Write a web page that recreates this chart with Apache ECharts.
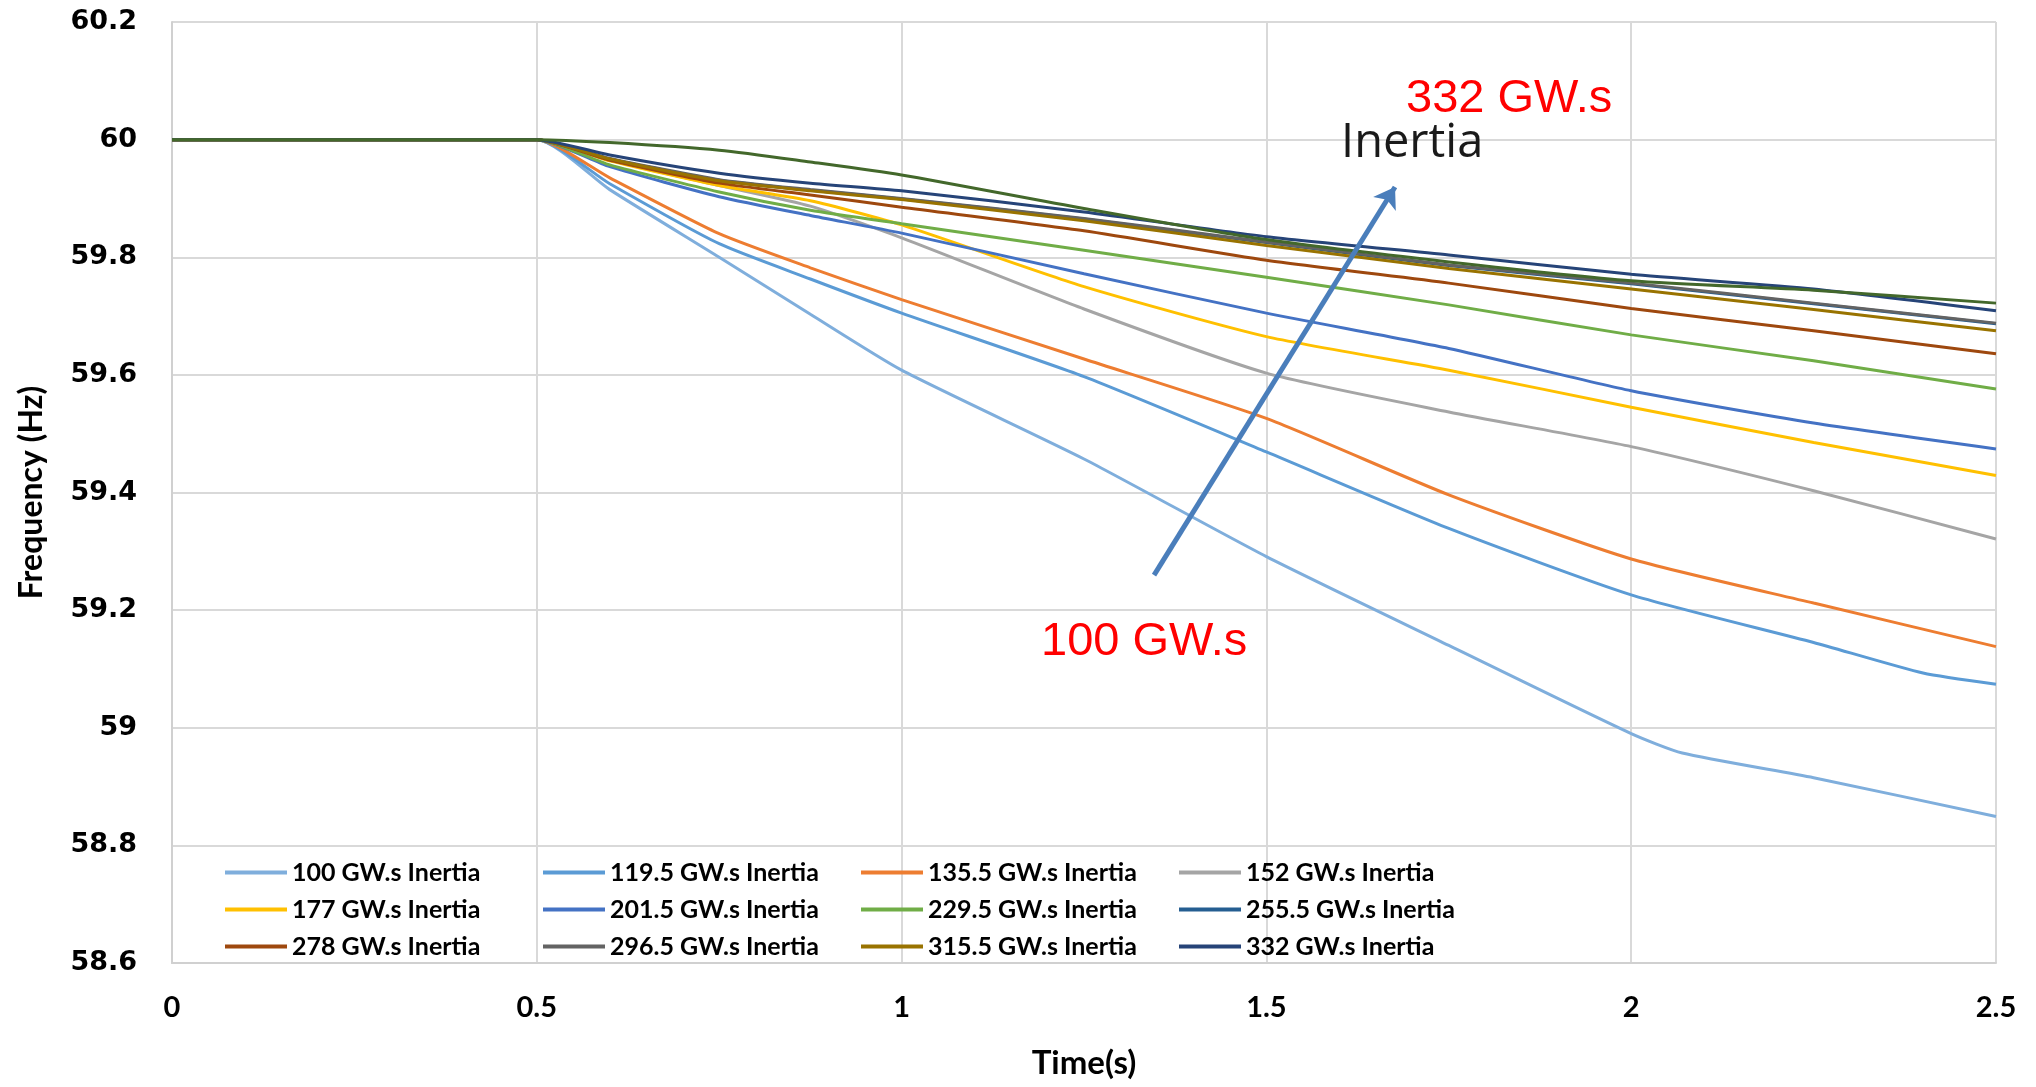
<!DOCTYPE html>
<html>
<head>
<meta charset="utf-8">
<script src="https://cdn.jsdelivr.net/npm/echarts@6/dist/echarts.min.js"></script>
<style>
html,body{margin:0;padding:0;background:#fff;}
#chart{width:2036px;height:1087px;}
</style>
</head>
<body>
<div id="chart"></div>
<script>
// ---- data ----
const times = [0, 0.5, 0.6, 0.75, 0.875, 1.0, 1.25, 1.5, 1.75, 2.0, 2.07, 2.25, 2.4, 2.5];
const yTickLabels = ['58.6','58.8','59','59.2','59.4','59.6','59.8','60','60.2'];
const xTickLabels = ['0','0.5','1','1.5','2','2.5'];

const names = ['100 GW.s Inertia','119.5 GW.s Inertia','135.5 GW.s Inertia','152 GW.s Inertia',
  '177 GW.s Inertia','201.5 GW.s Inertia','229.5 GW.s Inertia','255.5 GW.s Inertia',
  '278 GW.s Inertia','296.5 GW.s Inertia','315.5 GW.s Inertia','332 GW.s Inertia'];
const extraName = 'extra';

const f100   = [60,60,59.915,59.800,59.703,59.608,59.457,59.291,59.140,58.990,58.957,58.915,null,58.849];
const f119_5 = [60,60,59.925,59.823,59.763,59.705,59.597,59.469,59.339,59.226,null,59.145,59.093,59.074];
const f135_5 = [60,60,59.935,59.840,59.782,59.728,59.627,59.526,59.396,59.287,null,59.212,null,59.138];
const f152   = [60,60,59.965,59.922,59.887,59.833,59.712,59.603,59.537,59.478,null,59.403,null,59.321];
const f177   = [60,60,59.964,59.922,59.896,59.855,59.750,59.665,59.608,59.545,null,59.485,null,59.429];
const f201_5 = [60,60,59.954,59.903,59.871,59.841,59.772,59.705,59.645,59.573,null,59.518,null,59.474];
const f229_5 = [60,60,59.957,59.911,59.880,59.857,59.812,59.766,59.719,59.668,null,59.624,null,59.576];
const f255_5 = [60,60,59.967,59.931,59.914,59.899,59.865,59.825,59.786,59.755,null,59.721,null,59.687];
const f278   = [60,60,59.965,59.926,59.906,59.885,59.845,59.795,59.756,59.713,null,59.675,null,59.636];
const f296_5 = [60,60,59.968,59.932,59.915,59.900,59.866,59.826,59.787,59.756,null,59.722,null,59.688];
const f315_5 = [60,60,59.967,59.930,59.913,59.898,59.862,59.820,59.781,59.746,null,59.711,null,59.675];
const f332   = [60,60,59.974,59.943,59.926,59.913,59.877,59.835,59.804,59.771,null,59.746,null,59.709];
const fExtra = [60,60,59.995,59.982,59.962,59.940,59.883,59.830,59.792,59.760,null,59.744,null,59.722];

const seriesValues = [f100,f119_5,f135_5,f152,f177,f201_5,f229_5,f255_5,f278,f296_5,f315_5,f332];
const colors = ['#7FAEDC','#5B9BD5','#ED7D31','#A5A5A5','#FFC000','#4472C4','#70AD47','#255E91',
  '#9E480E','#636363','#997300','#264478'];
const extraColor = '#43682B';

// annotation arrow (data coordinates)
const arrowFrom = [1.346, 59.2595];
const arrowTo = [1.6763, 59.9194];

// ---- chart ----
const chart = echarts.init(document.getElementById('chart'), null, {renderer:'canvas'});
const mk = vals => times.map((t,i)=>[t, vals[i]]);

const series = seriesValues.map((vals,i)=>({
  name: names[i], type:'line', data: mk(vals), connectNulls:true,
  symbol:'none', smooth:0.2,
  color: colors[i], lineStyle:{width:3, color:colors[i]}
}));
series.push({
  name: extraName, type:'line', data: mk(fExtra), connectNulls:true,
  symbol:'none', smooth:0.25,
  color: extraColor, lineStyle:{width:3, color:extraColor}
});
series.push({
  name:'arrow', type:'line', data:[], z:10, silent:true,
  markLine:{
    silent:true, symbol:['none','arrow'], symbolSize:20,
    label:{show:false},
    lineStyle:{color:'#4A7EBB', width:5, type:'solid'},
    data:[[{coord:arrowFrom},{coord:arrowTo}]]
  }
});

const legendFont = {fontFamily:'Lato', fontWeight:'bold', fontSize:25, color:'#000'};
const colLeft = [225, 543, 861, 1179];
const rowTop = [860, 897, 934];
const legends = names.map((n,i)=>({
  data:[n], left: colLeft[i%4], top: rowTop[Math.floor(i/4)], orient:'horizontal',
  icon:'rect', itemWidth:62, itemHeight:4, itemGap:0, padding:0,
  textStyle: legendFont, selectedMode:false
}));

chart.setOption({
  animation:false,
  backgroundColor:'#fff',
  grid:{left:172, right:40, top:22, bottom:124, containLabel:false},
  legend: legends,
  xAxis:{
    type:'value', min:0, max:2.5, interval:0.5,
    name:'Time(s)', nameLocation:'middle', nameGap:84,
    nameTextStyle:{fontFamily:'Lato', fontWeight:'bold', fontSize:33, color:'#000'},
    axisLine:{show:true, lineStyle:{color:'#d0d0d0', width:2}},
    axisTick:{show:false},
    axisLabel:{margin:30, fontFamily:'Lato', fontWeight:'bold', fontSize:29, color:'#000',
      formatter:(v)=>{const i=Math.round(v/0.5); return xTickLabels[i]!==undefined?xTickLabels[i]:'';}},
    splitLine:{show:true, lineStyle:{color:'#d9d9d9', width:2}}
  },
  yAxis:{
    type:'value', min:58.6, max:60.2, interval:0.2,
    name:'Frequency (Hz)', nameLocation:'middle', nameGap:124, nameRotate:90,
    nameTextStyle:{fontFamily:'Lato', fontWeight:'bold', fontSize:32, color:'#000'},
    axisLine:{show:true, lineStyle:{color:'#d0d0d0', width:2}},
    axisTick:{show:false},
    axisLabel:{margin:35, fontFamily:'DejaVu Sans', fontWeight:'bold', fontSize:27, color:'#000',
      formatter:(v)=>{const i=Math.round((v-58.6)/0.2); return yTickLabels[i]!==undefined?yTickLabels[i]:'';}},
    splitLine:{show:true, lineStyle:{color:'#d9d9d9', width:2}}
  },
  graphic:[
    {type:'text', left:1406, top:76, z:20, style:{text:'332 GW.s', fill:'#FF0000',
      font:'47px "Liberation Sans", Arial, sans-serif'}},
    {type:'text', left:1341, top:120, z:20, style:{text:'Inertia', fill:'#1a1a1a',
      font:'47px "Open Sans", sans-serif'}},
    {type:'text', left:1041, top:619, z:20, style:{text:'100 GW.s', fill:'#FF0000',
      font:'47px "Liberation Sans", Arial, sans-serif'}}
  ],
  series: series
});
</script>
</body>
</html>
